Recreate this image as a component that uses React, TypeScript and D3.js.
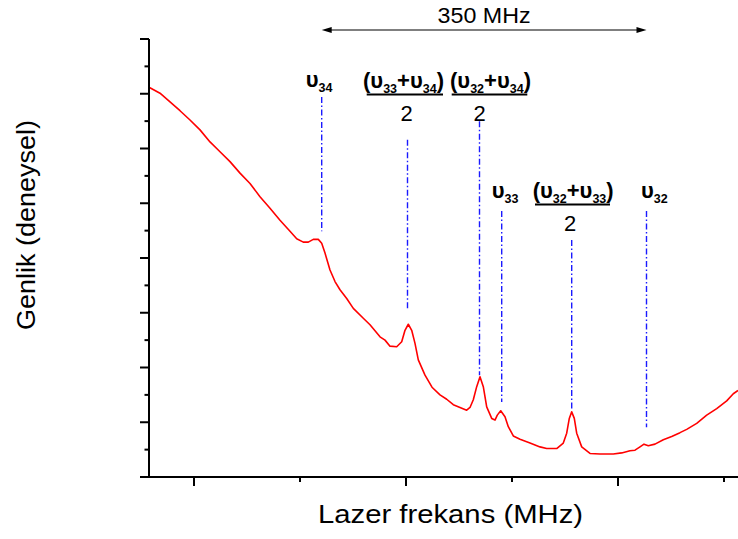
import React from "react";
import * as d3 from "d3";

// Laser frequency (arbitrary units along the scan) and measured amplitude (a.u.)
const freq = [0, 11, 21, 31, 41, 51, 61, 71, 81, 91, 101, 111, 121, 131, 141, 147.7, 154.3, 159.3, 164.3, 169.3, 172.7, 176, 181, 186, 191, 197.7, 204.3, 214.3, 221, 231, 236, 241, 247.7, 252.7, 256, 259.3, 262.7, 266, 269.3, 276, 283, 291, 297.7, 304.3, 311, 317.7, 321, 324.3, 327.7, 331, 334.3, 337.7, 342.7, 346, 348.3, 351.7, 356, 359.3, 364.3, 371, 381, 391, 397.7, 407.7, 414.3, 417.7, 420.3, 422.7, 425.3, 427.7, 432.7, 441, 451, 464.3, 472.7, 481, 486, 491, 495, 499.3, 506, 514.3, 522.7, 531, 537.7, 547.7, 557.7, 567.7, 577.7, 584.3, 589];
const amp = [7.12, 7.01, 6.85, 6.69, 6.52, 6.34, 6.12, 5.94, 5.76, 5.55, 5.36, 5.12, 4.91, 4.69, 4.49, 4.35, 4.29, 4.29, 4.34, 4.34, 4.27, 4.09, 3.78, 3.57, 3.42, 3.26, 3.08, 2.9, 2.78, 2.56, 2.5, 2.39, 2.38, 2.47, 2.68, 2.79, 2.68, 2.44, 2.14, 1.86, 1.64, 1.5, 1.42, 1.32, 1.27, 1.22, 1.27, 1.41, 1.65, 1.83, 1.65, 1.28, 1.07, 1.04, 1.13, 1.21, 1.1, 0.92, 0.75, 0.69, 0.62, 0.55, 0.52, 0.52, 0.62, 0.8, 1.07, 1.19, 1.07, 0.8, 0.55, 0.43, 0.42, 0.42, 0.44, 0.48, 0.49, 0.55, 0.6, 0.57, 0.6, 0.68, 0.74, 0.81, 0.87, 0.98, 1.13, 1.25, 1.39, 1.52, 1.58];

// Marked transitions
const peakKeys = ["v34", "f3334", "f3234", "v33", "f3233", "v32"];
const peakFreq = [172.7, 258.5, 330.5, 352.7, 422.7, 497.5];
const markTop = [6.94, 6.16, 6.5, 4.86, 4.33, 4.86];
const markBottom = [4.49, 3.05, 1.86, 1.37, 1.21, 0.91];

const xMajorTicks = [45, 257, 469];
const xMinorTicks = [151, 363, 575];
const yMajorTicks = [0, 1, 2, 3, 4, 5, 6, 7, 8];
const yMinorTicks = [0.5, 1.5, 2.5, 3.5, 4.5, 5.5, 6.5, 7.5];

const spanLabel = "350 MHz";
const xTitle = "Lazer frekans (MHz)";
const yTitle = "Genlik (deneysel)";

const W = 738;
const H = 539;
const FONT = "'Liberation Sans', Arial, Helvetica, sans-serif";
const MAIN = 22;
const SUB = 12.5;
const SUBDY = 5;

export default function App() {
  const x = d3.scaleLinear().domain([0, 589]).range([149, 738]);
  const y = d3.scaleLinear().domain([0, 8]).range([477, 39]);
  const pts: [number, number][] = freq.map((f, i) => [f, amp[i]]);
  const line = d3
    .line<[number, number]>()
    .x((d) => x(d[0]))
    .y((d) => y(d[1]))
    .curve(d3.curveLinear);

  const px = (k: string) => x(peakFreq[peakKeys.indexOf(k)]);

  const fraction = (
    a: string,
    b: string,
    cxNum: number,
    cxTwo: number,
    baseY: number,
    barL: number,
    barR: number
  ) => (
    <g>
      <text
        x={cxNum}
        y={baseY}
        textAnchor="middle"
        fontWeight="bold"
        fontFamily={FONT}
        fontSize={MAIN}
        fill="#000"
      >
        <tspan fontSize={MAIN}>(υ</tspan>
        <tspan fontSize={SUB} dy={SUBDY}>{a}</tspan>
        <tspan fontSize={MAIN} dy={-SUBDY}>+υ</tspan>
        <tspan fontSize={SUB} dy={SUBDY}>{b}</tspan>
        <tspan fontSize={MAIN} dy={-SUBDY}>)</tspan>
      </text>
      <line x1={barL} x2={barR} y1={baseY + 7} y2={baseY + 7} stroke="#000" strokeWidth={2} />
      <text x={cxTwo} y={baseY + 33.5} textAnchor="middle" fontSize={22} fontFamily={FONT} fill="#000">
        2
      </text>
    </g>
  );

  const single = (sub: string, xx: number, yy: number) => (
    <text x={xx} y={yy} fontWeight="bold" fontFamily={FONT} fontSize={MAIN} fill="#000">
      <tspan fontSize={MAIN}>υ</tspan>
      <tspan fontSize={SUB} dy={SUBDY}>{sub}</tspan>
    </text>
  );

  const x34 = px("v34");
  const x3334 = px("f3334");
  const x3234 = px("f3234");
  const x33 = px("v33");
  const x3233 = px("f3233");
  const x32 = px("v32");
  const arrowY = 30;

  return (
    <svg
      width={W}
      height={H}
      style={{ position: "absolute", left: 0, top: 0, background: "#fff" }}
    >
      <rect width={W} height={H} fill="#fff" />
      {/* curve */}
      <path d={line(pts) || ""} fill="none" stroke="#ff0000" strokeWidth={1.6} strokeLinejoin="round" />

      {/* marker lines */}
      {peakKeys.map((k, i) => (
        <line
          key={k}
          x1={x(peakFreq[i])}
          x2={x(peakFreq[i])}
          y1={y(markTop[i])}
          y2={y(markBottom[i])}
          stroke="#1a1aff"
          strokeWidth={1.4}
          strokeDasharray="6,2.5,1.5,2.5"
        />
      ))}

      {/* axes */}
      <line x1={149} x2={149} y1={y(8)} y2={y(0)} stroke="#000" strokeWidth={2} />
      <line x1={140} x2={738} y1={y(0)} y2={y(0)} stroke="#000" strokeWidth={2} />
      {yMajorTicks.map((t) => (
        <line key={"ym" + t} x1={140} x2={149} y1={y(t)} y2={y(t)} stroke="#000" strokeWidth={2} />
      ))}
      {yMinorTicks.map((t) => (
        <line key={"yn" + t} x1={144.5} x2={149} y1={y(t)} y2={y(t)} stroke="#000" strokeWidth={2} />
      ))}
      {xMajorTicks.map((t) => (
        <line key={"xm" + t} x1={x(t)} x2={x(t)} y1={477} y2={486} stroke="#000" strokeWidth={2} />
      ))}
      {xMinorTicks.map((t) => (
        <line key={"xn" + t} x1={x(t)} x2={x(t)} y1={477} y2={482} stroke="#000" strokeWidth={2} />
      ))}

      {/* titles */}
      <text
        x={450.5}
        y={523}
        textAnchor="middle"
        fontSize={26}
        fontFamily={FONT}
        textLength={265}
        lengthAdjust="spacingAndGlyphs"
        fill="#000"
      >
        {xTitle}
      </text>
      <text
        transform={`translate(35,225) rotate(-90)`}
        textAnchor="middle"
        fontSize={26}
        fontFamily={FONT}
        textLength={210}
        lengthAdjust="spacingAndGlyphs"
        fill="#000"
      >
        {yTitle}
      </text>

      {/* span arrow */}
      <line x1={x34 + 8} x2={x32 - 8} y1={arrowY} y2={arrowY} stroke="#000" strokeWidth={1.2} />
      <path d={`M${x34},${arrowY} L${x34 + 10},${arrowY - 3} L${x34 + 10},${arrowY + 3} Z`} fill="#000" />
      <path d={`M${x32},${arrowY} L${x32 - 10},${arrowY - 3} L${x32 - 10},${arrowY + 3} Z`} fill="#000" />
      <text
        x={(x34 + x32) / 2}
        y={23}
        textAnchor="middle"
        fontSize={22}
        fontFamily={FONT}
        textLength={93}
        lengthAdjust="spacingAndGlyphs"
        fill="#000"
      >
        {spanLabel}
      </text>

      {/* peak labels */}
      {single("34", x34 - 16, 87)}
      {fraction("33", "34", x3334 - 4, x3334 - 1, 87.5, 366.7, 443)}
      {fraction("32", "34", x3234 + 11, x3234, 87.5, 451.7, 527.3)}
      {single("33", x33 - 10, 198)}
      {fraction("32", "33", x3233 + 1.5, x3233 - 1.5, 197.5, 535, 610)}
      {single("32", x32 - 5.5, 198)}
    </svg>
  );
}
